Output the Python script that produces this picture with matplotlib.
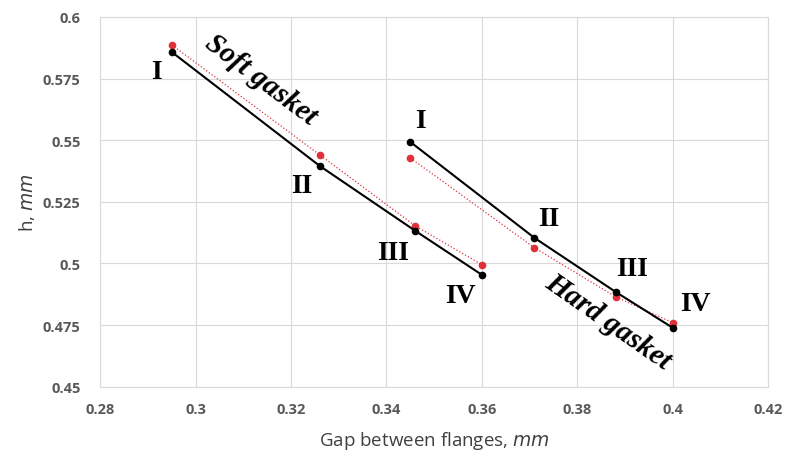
import matplotlib.pyplot as plt

# Data
numerals = ['I', 'II', 'III', 'IV']

soft_gap = [0.295, 0.326, 0.346, 0.360]
soft_h_black = [0.5858, 0.5396, 0.5133, 0.4954]
soft_h_red = [0.5887, 0.5441, 0.5153, 0.4995]

hard_gap = [0.345, 0.371, 0.388, 0.400]
hard_h_black = [0.5493, 0.5104, 0.4885, 0.4739]
hard_h_red = [0.5428, 0.5064, 0.4865, 0.4760]

x_ticks = [0.28, 0.30, 0.32, 0.34, 0.36, 0.38, 0.40, 0.42]
x_labels = ['0.28', '0.3', '0.32', '0.34', '0.36', '0.38', '0.4', '0.42']
y_ticks = [0.45, 0.475, 0.5, 0.525, 0.55, 0.575, 0.6]
y_labels = ['0.45', '0.475', '0.5', '0.525', '0.55', '0.575', '0.6']


def main():
    fig = plt.figure(figsize=(7.88, 4.6), dpi=100)
    ax = fig.add_axes([0.127, 0.157, 0.848, 0.804])

    red = '#e0303a'
    for gap, hb, hr in [(soft_gap, soft_h_black, soft_h_red),
                        (hard_gap, hard_h_black, hard_h_red)]:
        ax.plot(gap, hr, color=red, lw=0.9, ls=':', marker='o',
                ms=4.5, zorder=3)
        ax.plot(gap, hb, color='black', lw=1.5, marker='o',
                ms=4.5, zorder=4)

    # Roman numeral labels next to the black points (offsets in pixels)
    serif = dict(family='Liberation Serif', fontweight='bold')
    soft_off = [(-15, -20), (-18, -20), (-22, -22), (-21, -21)]
    hard_off = [(10, 21), (14, 19), (16, 23), (23, 24)]
    for gap, h, offs in [(soft_gap, soft_h_black, soft_off),
                         (hard_gap, hard_h_black, hard_off)]:
        for lab, x, y, off in zip(numerals, gap, h, offs):
            ax.annotate(lab, (x, y), xytext=off, textcoords='offset pixels',
                        ha='center', va='center', fontsize=20, **serif)

    ax.text(0.3137, 0.5749, 'Soft gasket', rotation=-37, ha='center',
            va='center', style='italic', rotation_mode='anchor',
            fontsize=21, **serif)
    ax.text(0.3865, 0.4768, 'Hard gasket', rotation=-35, ha='center',
            va='center', style='italic', rotation_mode='anchor',
            fontsize=21, **serif)

    ax.set_xlim(0.28, 0.42)
    ax.set_ylim(0.45, 0.6)
    ax.set_xticks(x_ticks)
    ax.set_xticklabels(x_labels)
    ax.set_yticks(y_ticks)
    ax.set_yticklabels(y_labels)
    ax.grid(True, color='#d9d9d9', lw=0.8)
    ax.set_axisbelow(True)
    ax.tick_params(axis='y', length=0, pad=14, labelsize=10.5,
                   labelcolor='#595959')
    ax.tick_params(axis='x', length=0, pad=11, labelsize=10.5,
                   labelcolor='#595959')
    for t in ax.get_xticklabels() + ax.get_yticklabels():
        t.set_fontweight('bold')
        t.set_family('Open Sans')
    for s in ax.spines.values():
        s.set_color('#d9d9d9')

    ax.set_xlabel('Gap between flanges, $\\it{mm}$', fontsize=13.5,
                  color='#404040', family='Open Sans', labelpad=9)
    ax.set_ylabel('h, $\\it{mm}$', fontsize=13.5, color='#404040',
                  family='Open Sans', labelpad=4)

    plt.savefig('out.png', dpi=100)


if __name__ == '__main__':
    main()
